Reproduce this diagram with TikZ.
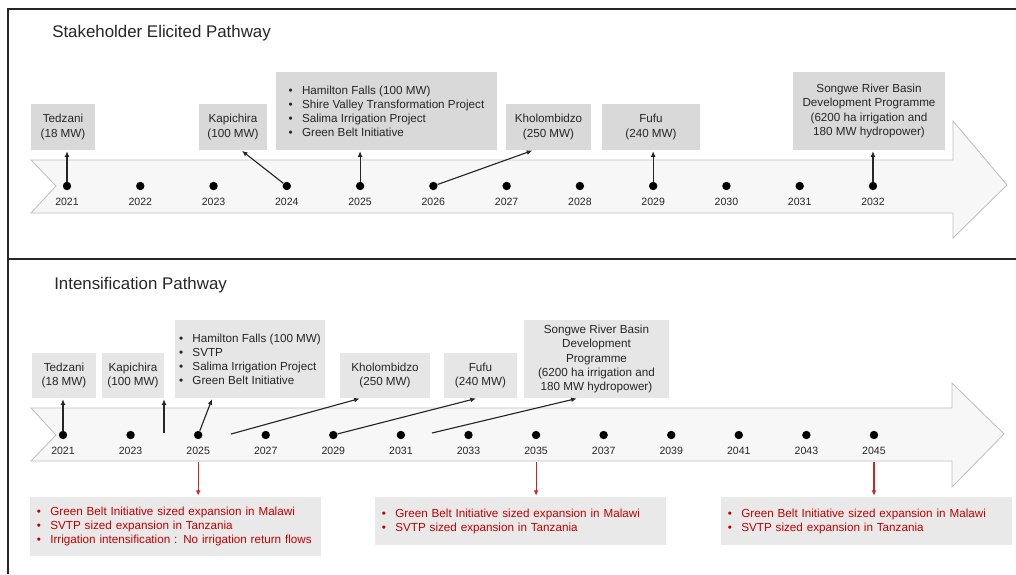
\documentclass[tikz,border=0pt]{standalone}
\usepackage{fontspec}
\setmainfont{Liberation Sans}
\usetikzlibrary{positioning,calc,arrows.meta}
\definecolor{boxtop}{HTML}{D9D9D9}
\definecolor{boxlow}{HTML}{E6E6E6}
\definecolor{notefill}{HTML}{E9E9E9}
\definecolor{notered}{HTML}{C00000}
\definecolor{bodyfill}{HTML}{F7F7F7}
\definecolor{bodyedge}{HTML}{BFBFBF}
\definecolor{ink}{HTML}{262626}
\newcommand{\bul}{\makebox[9.5pt][l]{\textbullet}}

\begin{document}
\begin{tikzpicture}[x=0.025cm,y=-0.025cm,
        txt/.style={font=\fontsize{8.3}{10}\selectfont,text=ink},
        mbox/.style={txt,fill=boxtop,align=center,inner sep=0pt},
        sz/.style 2 args={minimum width=#1*0.025cm,minimum height=#2*0.025cm},
        yeardot/.style={circle,fill=black,inner sep=0pt,minimum size=0.21cm},
        yrlab/.style={font=\fontsize{7.5}{9}\selectfont,text=ink,inner sep=0pt},
        conn/.style={draw=ink,line width=0.8pt,shorten >=0.6pt,-{Latex[length=4pt,width=3.4pt]}},
        redconn/.style={conn,draw=notered!85},
        notebox/.style={txt,text=notered,fill=notefill,align=left,text width=6.925cm,inner xsep=0.15cm,inner ysep=0pt},
        body/.style={draw=bodyedge,fill=bodyfill,line width=0.6pt},
        ttl/.style={font=\fontsize{12}{14}\selectfont,text=ink,anchor=west,inner sep=0pt}]
        \useasboundingbox (0,0) rectangle (1016,574);
        % Frame
        \draw[ink,line width=0.9pt] (1016,9) -- (8,9) -- (8,574);
        \draw[ink,line width=0.9pt] (8,259) -- (1016,259);

        % Stakeholder elicited pathway
        \node[ttl] (titleA) at (52,33) {Stakeholder Elicited Pathway};
        \draw[body] (31,160) -- (953,160) -- (953,121) -- (1007,185) -- (953,238) -- (953,213) -- (31,213) -- (56,186) -- cycle;
        \foreach \yr [count=\i from 0] in {2021,...,2032} {
            \node[yeardot] (dA\yr) at (67+73.27*\i,186) {};
            \node[yrlab,below=5pt of dA\yr] {\yr};
        }
        \node[mbox,sz={64}{46}] (tedzaniA) at (63,127) {Tedzani\\(18 MW)};
        \node[mbox,sz={68}{46}] (kapichiraA) at (233,127) {Kapichira\\(100 MW)};
        \node[mbox,sz={221}{78},align=left] (hamiltonA) at (386.5,111) {\bul Hamilton Falls (100 MW)\\\bul Shire Valley Transformation Project\\\bul Salima Irrigation Project\\\bul Green Belt Initiative};
        \node[mbox,sz={85}{46}] (kholombidzoA) at (548.5,127) {Kholombidzo\\(250 MW)};
        \node[mbox,sz={98}{46}] (fufuA) at (651,127) {Fufu\\(240 MW)};
        \node[mbox,sz={152}{78}] (songweA) at (869,111) {Songwe River Basin\\Development Programme\\(6200 ha irrigation and\\180 MW hydropower)};
        \draw[conn] (dA2021) -- (dA2021 |- tedzaniA.south);
        \draw[conn] (dA2024) -- ($(kapichiraA.south west)!0.62!(kapichiraA.south east)$);
        \draw[conn] (dA2025) -- (dA2025 |- hamiltonA.south);
        \draw[conn] (dA2026) -- ($(kholombidzoA.south west)!0.32!(kholombidzoA.south east)$);
        \draw[conn] (dA2029) -- (dA2029 |- fufuA.south);
        \draw[conn] (dA2032) -- (dA2032 |- songweA.south);

        % Intensification pathway
        \node[ttl] (titleB) at (54,285) {Intensification Pathway};
        \draw[body] (31,408) -- (952,408) -- (952,383) -- (1004,434) -- (952,487) -- (952,461) -- (31,461) -- (56,435) -- cycle;
        \foreach \yr [count=\i from 0] in {2021,2023,...,2045} {
            \node[yeardot] (dB\yr) at (63+67.58*\i,435) {};
            \node[yrlab,below=5pt of dB\yr] {\yr};
        }
        \node[mbox,fill=boxlow,sz={64}{45}] (tedzaniB) at (64,375.5) {Tedzani\\(18 MW)};
        \node[mbox,fill=boxlow,sz={62}{45}] (kapichiraB) at (133,375.5) {Kapichira\\(100 MW)};
        \node[mbox,fill=boxlow,sz={150}{78},align=left] (hamiltonB) at (250,359) {\bul Hamilton Falls (100 MW)\\\bul SVTP\\\bul Salima Irrigation Project\\\bul Green Belt Initiative};
        \node[mbox,fill=boxlow,sz={90}{45}] (kholombidzoB) at (385,375.5) {Kholombidzo\\(250 MW)};
        \node[mbox,fill=boxlow,sz={73}{45}] (fufuB) at (480.5,375.5) {Fufu\\(240 MW)};
        \node[mbox,fill=boxlow,sz={145}{78}] (songweB) at (596.5,359) {Songwe River Basin\\Development\\Programme\\(6200 ha irrigation and\\180 MW hydropower)};
        \coordinate (kapfoot) at (164,433);
        \coordinate (kholfoot) at (231,434);
        \coordinate (songfoot) at (432,433);
        \draw[conn] (dB2021) -- (dB2021 |- tedzaniB.south);
        \draw[conn] (kapfoot) -- (kapfoot |- kapichiraB.south);
        \draw[conn] (dB2025) -- ($(hamiltonB.south west)!0.25!(hamiltonB.south east)$);
        \draw[conn] (kholfoot) -- ($(kholombidzoB.south west)!0.23!(kholombidzoB.south east)$);
        \draw[conn] (dB2029) -- ($(fufuB.south west)!0.45!(fufuB.south east)$);
        \draw[conn] (songfoot) -- ($(songweB.south west)!0.37!(songweB.south east)$);

        % Expansion notes
        \node[notebox,sz={291}{59}] (noteA) at (175.5,526.5) {\bul Green Belt Initiative sized expansion in Malawi\\\bul SVTP sized expansion in Tanzania\\\bul Irrigation intensification : No irrigation return flows};
        \node[notebox,sz={291}{48}] (noteB) at (520.5,521) {\bul Green Belt Initiative sized expansion in Malawi\\\bul SVTP sized expansion in Tanzania};
        \node[notebox,sz={291}{48}] (noteC) at (866.5,521) {\bul Green Belt Initiative sized expansion in Malawi\\\bul SVTP sized expansion in Tanzania};
        \coordinate (lowedge) at (0,462);
        \draw[redconn] (dB2025 |- lowedge) -- (dB2025 |- noteA.north);
        \draw[redconn] (dB2035 |- lowedge) -- (dB2035 |- noteB.north);
        \draw[redconn] (dB2045 |- lowedge) -- (dB2045 |- noteC.north);
\end{tikzpicture}
\end{document}
